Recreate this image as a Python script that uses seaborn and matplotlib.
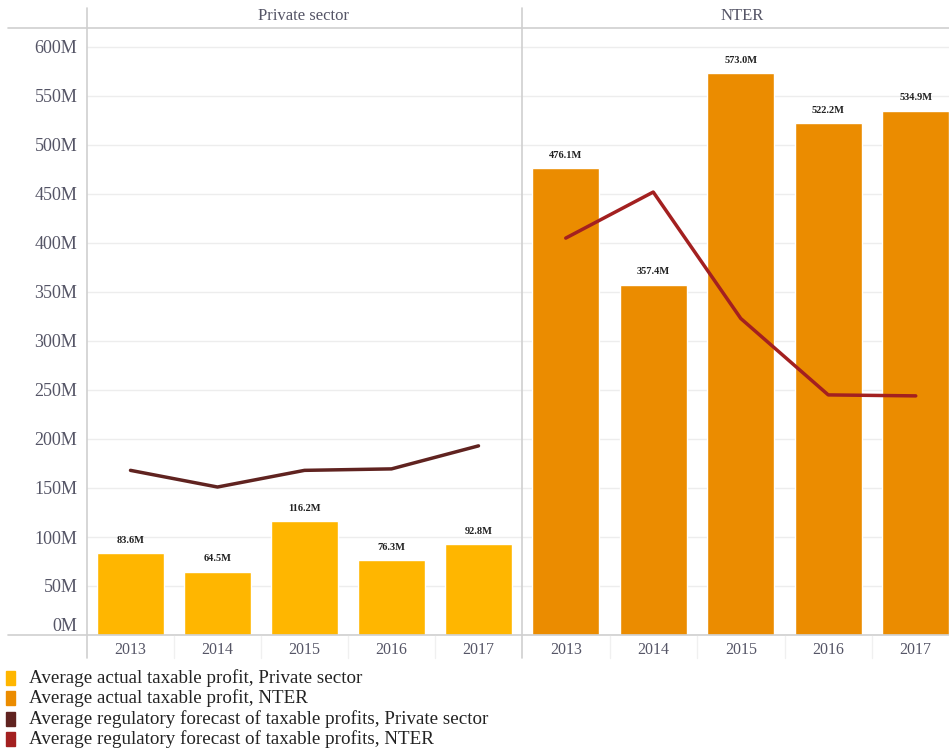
import matplotlib
matplotlib.use("Agg")
import matplotlib.pyplot as plt
from matplotlib.lines import Line2D
from matplotlib.patches import Rectangle
import seaborn as sns
import pandas as pd

years = ["2013", "2014", "2015", "2016", "2017"]
private_actual = [83.6, 64.5, 116.2, 76.3, 92.8]
nter_actual = [476.1, 357.4, 573.0, 522.2, 534.9]
private_forecast = [168, 151, 168, 169.5, 193]
nter_forecast = [405, 452, 323, 245, 244]
panels = ["Private sector", "NTER"]
y_ticks = [0, 50, 100, 150, 200, 250, 300, 350, 400, 450, 500, 550, 600]
legend_labels = [
    "Average actual taxable profit, Private sector",
    "Average actual taxable profit, NTER",
    "Average regulatory forecast of taxable profits, Private sector",
    "Average regulatory forecast of taxable profits, NTER",
]

bar_colors = ["#FFB600", "#EB8C00"]
line_colors = ["#602320", "#A32020"]

sns.set_theme(style="white")
plt.rcParams["font.family"] = ["Liberation Serif", "DejaVu Serif"]

W, H = 949, 751
fig = plt.figure(figsize=(W / 100, H / 100), dpi=100)

def fx(px):
    return px / W

def fy(py):
    return 1 - py / H

top_px, base_px = 28, 635
ymax = (base_px - top_px) / 0.98
grid_c = "#EDEDED"
axis_c = "#CFCFCF"
text_c = "#555566"

ax_specs = [(87, 522 - 87), (522, 5 * 87.5)]
data_sets = [(private_actual, private_forecast), (nter_actual, nter_forecast)]

for i, ((left, width), (bars, fc)) in enumerate(zip(ax_specs, data_sets)):
    ax = fig.add_axes([fx(left), fy(base_px), fx(width), (base_px - top_px) / H])
    df = pd.DataFrame({"year": years, "actual": bars, "forecast": fc})
    sns.barplot(data=df, x="year", y="actual", color=bar_colors[i], saturation=1,
                width=0.77, ax=ax, zorder=2)
    sns.lineplot(x=list(range(len(years))), y=fc, color=line_colors[i], lw=2.5,
                 ax=ax, zorder=3)
    ax.set_ylim(0, ymax)
    ax.set_xlim(-0.5, 4.5)
    ax.set_yticks(y_ticks)
    ax.yaxis.grid(True, color=grid_c, lw=1, zorder=0)
    ax.set_axisbelow(True)
    for s in ax.spines.values():
        s.set_visible(False)
    ax.set_xlabel("")
    ax.set_ylabel("")
    ax.tick_params(axis="x", length=0, pad=5, labelsize=11.5, labelcolor=text_c)
    if i == 0:
        ax.set_yticklabels([f"{v}M" for v in y_ticks])
        ax.tick_params(axis="y", length=0, pad=7, labelsize=13, labelcolor=text_c)
        for lbl in ax.get_yticklabels():
            if lbl.get_text() == "0M":
                lbl.set_verticalalignment("bottom")
    else:
        ax.set_yticklabels([])
        ax.tick_params(axis="y", length=0)
    for j, v in enumerate(bars):
        ax.annotate(f"{v:.1f}M", (j, v), xytext=(0, 6), textcoords="offset points",
                    ha="center", va="bottom", fontsize=7.5, fontweight="bold",
                    color="#222222")

# header and frame lines
fig.add_artist(Line2D([fx(8), 1], [fy(28), fy(28)], color=axis_c, lw=1.2))
fig.add_artist(Line2D([fx(8), 1], [fy(635), fy(635)], color=axis_c, lw=1.2))
fig.add_artist(Line2D([fx(87), fx(87)], [fy(8), fy(658)], color=axis_c, lw=1.2))
fig.add_artist(Line2D([fx(522), fx(522)], [fy(8), fy(658)], color=axis_c, lw=1.2))
# faint category separators in tick row
for base, step in [(87, 87), (522, 87.5)]:
    for k in range(1, 5):
        xx = base + step * k
        fig.add_artist(Line2D([fx(xx), fx(xx)], [fy(636), fy(658)], color="#F0F0F0", lw=1))

fig.text(fx(304), fy(16), panels[0], ha="center", va="center", fontsize=12, color=text_c)
fig.text(fx(742), fy(16), panels[1], ha="center", va="center", fontsize=12, color=text_c)

# legend
leg_colors = bar_colors + line_colors
for k, (lab, c) in enumerate(zip(legend_labels, leg_colors)):
    yc = 678 + k * 20.3
    fig.add_artist(Rectangle((fx(6), fy(yc + 7)), fx(9), 14 / H, color=c,
                             transform=fig.transFigure))
    fig.text(fx(29), fy(yc), lab, ha="left", va="center", fontsize=13.7, color="#222222")

fig.savefig("out.png", dpi=100)
